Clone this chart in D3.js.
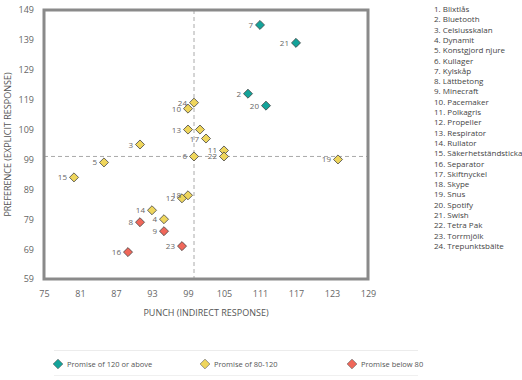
<!DOCTYPE html>
<html><head><meta charset="utf-8">
<script src="https://cdn.jsdelivr.net/npm/d3@7"></script>
<style>
body{margin:0;background:#fff;}
text{font-family:"Open Sans",sans-serif;}
</style></head><body>
<svg id="chart" width="522" height="380"></svg>
<script>
const ids = [1,2,3,4,5,6,7,8,9,10,11,12,13,14,15,16,17,18,19,20,21,22,23,24];
const names = ["Blixtlås","Bluetooth","Celsiusskalan","Dynamit","Konstgjord njure","Kullager","Kylskåp","Lättbetong","Minecraft","Pacemaker","Polkagris","Propeller","Respirator","Rullator","Säkerhetständsticka","Separator","Skiftnyckel","Skype","Snus","Spotify","Swish","Tetra Pak","Torrmjölk","Trepunktsbälte"];
const punch = [101,109,91,95,85,100,111,91,95,99,105,98,99,93,80,89,102,99,124,112,117,105,98,100];
const preference = [109,121,104,79,98,100,144,78,75,116,102,86,109,82,93,68,106,87,99,117,138,100,70,118];
const group = ["mid","high","mid","mid","mid","mid","high","low","low","mid","mid","mid","mid","mid","mid","low","mid","mid","mid","high","high","mid","low","mid"];
const labelShown = [false,true,true,true,true,true,true,true,true,true,true,true,true,true,true,true,true,true,true,true,true,true,true,true];
const xTicks = [75,81,87,93,99,105,111,117,123,129];
const yTicks = [59,69,79,89,99,109,119,129,139,149];
const refX = 100, refY = 100;
const legendKeys = ["high","mid","low"];
const legendLabels = ["Promise of 120 or above","Promise of 80-120","Promise below 80"];
const colorRange = ["#13a39a","#efd65c","#f0675a"];

const svg = d3.select("#chart");
const x = d3.scaleLinear().domain([75,129]).range([44,368]);
const y = d3.scaleLinear().domain([59,149]).range([279,10]);
const color = d3.scaleOrdinal().domain(legendKeys).range(colorRange);

// reference lines
svg.append("line").attr("x1",x(refX)).attr("x2",x(refX)).attr("y1",y(149)).attr("y2",y(59))
  .attr("stroke","#aaa").attr("stroke-dasharray","4,3");
svg.append("line").attr("x1",x(75)).attr("x2",x(129)).attr("y1",y(refY)).attr("y2",y(refY))
  .attr("stroke","#aaa").attr("stroke-dasharray","4,3");

// frame
svg.append("rect").attr("x",x(75)).attr("y",y(149)).attr("width",x(129)-x(75)).attr("height",y(59)-y(149))
  .attr("fill","none").attr("stroke","#8a8a8a").attr("stroke-width",3);

// axes
const xAxis = d3.axisBottom(x).tickValues(xTicks).tickSize(0).tickPadding(12);
const gx = svg.append("g").attr("transform",`translate(0,${y(59)})`).call(xAxis);
gx.select(".domain").remove();
gx.selectAll("text").attr("fill","#666").style("font-size","9px").style("font-family","Open Sans");
const yAxis = d3.axisLeft(y).tickValues(yTicks).tickSize(0).tickPadding(10);
const gy = svg.append("g").attr("transform",`translate(${x(75)},0)`).call(yAxis);
gy.select(".domain").remove();
gy.selectAll("text").attr("fill","#666").style("font-size","9px").style("font-family","Open Sans");

svg.append("text").attr("x",(x(75)+x(129))/2).attr("y",316).attr("text-anchor","middle")
  .attr("fill","#555").style("font-size","9px").text("PUNCH (INDIRECT RESPONSE)");
svg.append("text").attr("transform",`translate(11,${(y(59)+y(149))/2}) rotate(-90)`).attr("text-anchor","middle")
  .attr("fill","#555").style("font-size","9px").text("PREFERENCE (EXPLICIT RESPONSE)");

const diamond = d3.symbol().type(d3.symbolDiamond2).size(52);
const pts = ids.map((id,i)=>({id,name:names[i],px:punch[i],py:preference[i],g:group[i],show:labelShown[i]}));

svg.append("g").selectAll("path").data(pts).join("path")
  .attr("d",diamond).attr("transform",d=>`translate(${x(d.px)},${y(d.py)})`)
  .attr("fill",d=>color(d.g)).attr("stroke","#444").attr("stroke-width",0.8);

svg.append("g").selectAll("text").data(pts.filter(d=>d.show)).join("text")
  .attr("x",d=>x(d.px)-7).attr("y",d=>y(d.py)+3).attr("text-anchor","end")
  .attr("fill","#666").style("font-size","8px").text(d=>d.id);

// right list
svg.append("g").selectAll("text").data(pts).join("text")
  .attr("x",434).attr("y",(d,i)=>12+i*10.3).attr("fill","#444").style("font-size","8px")
  .text(d=>`${d.id}. ${d.name}`);

// bottom legend
svg.append("line").attr("x1",54).attr("x2",418).attr("y1",350.5).attr("y2",350.5).attr("stroke","#ececec");
svg.append("line").attr("x1",54).attr("x2",418).attr("y1",375.5).attr("y2",375.5).attr("stroke","#f0f0f0");
const lx = [58,205,352];
const lg = svg.append("g").selectAll("g").data(legendKeys).join("g")
  .attr("transform",(d,i)=>`translate(${lx[i]},364)`);
lg.append("path").attr("d",d3.symbol().type(d3.symbolDiamond2).size(60)).attr("fill",d=>color(d)).attr("stroke","#555").attr("stroke-width",0.6);
lg.append("text").attr("x",9).attr("y",3).attr("fill","#555").style("font-size","7.5px").text((d,i)=>legendLabels[i]);
</script></body></html>
